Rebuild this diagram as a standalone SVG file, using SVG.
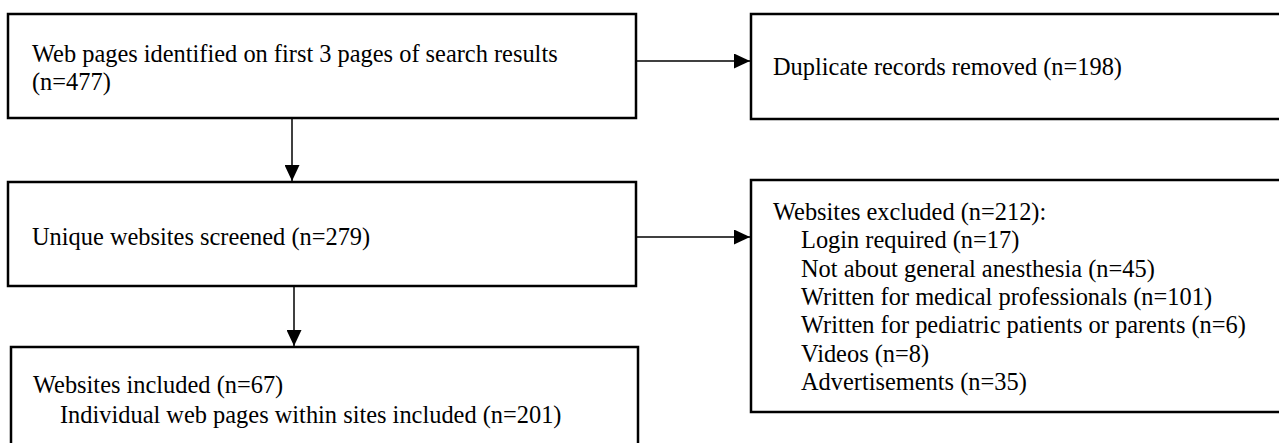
<svg xmlns="http://www.w3.org/2000/svg" width="1279" height="443" viewBox="0 0 1279 443">
<style>
.box{fill:#fff;stroke:#000;stroke-width:2.5}
.lbl{font-family:"Liberation Serif","Times New Roman",serif;font-size:24.4px;fill:#000}
.conn{fill:none;stroke:#000;stroke-width:1.5}
</style>
<defs>
<marker id="ah" viewBox="0 0 16 15" refX="16" refY="7.5" markerWidth="16" markerHeight="15" markerUnits="userSpaceOnUse" orient="auto">
<path d="M0,0 L16,7.5 L0,15 Z" fill="#000"/>
</marker>
</defs>
<rect width="1279" height="443" fill="#fff"/>
<g id="identified">
<rect class="box" x="8" y="14" width="628" height="104"/>
<text class="lbl" x="32" y="62">Web pages identified on first 3 pages of search results</text>
<text class="lbl" x="32" y="90">(n=477)</text>
</g>
<g id="duplicates">
<rect class="box" x="751" y="14" width="560" height="105"/>
<text class="lbl" x="773" y="75">Duplicate records removed (n=198)</text>
</g>
<g id="screened">
<rect class="box" x="8" y="182" width="628" height="104"/>
<text class="lbl" x="32" y="245">Unique websites screened (n=279)</text>
</g>
<g id="excluded">
<rect class="box" x="751" y="180" width="560" height="232"/>
<text class="lbl" x="773" y="220">Websites excluded (n=212):</text>
<text class="lbl" x="801" y="248.3">Login required (n=17)</text>
<text class="lbl" x="801" y="276.6">Not about general anesthesia (n=45)</text>
<text class="lbl" x="801" y="305">Written for medical professionals (n=101)</text>
<text class="lbl" x="801" y="333.3">Written for pediatric patients or parents (n=6)</text>
<text class="lbl" x="801" y="361.6">Videos (n=8)</text>
<text class="lbl" x="801" y="390">Advertisements (n=35)</text>
</g>
<g id="included">
<rect class="box" x="11" y="347" width="627" height="120"/>
<text class="lbl" x="33" y="393">Websites included (n=67)</text>
<text class="lbl" x="60" y="423">Individual web pages within sites included (n=201)</text>
</g>
<g id="connectors">
<line class="conn" x1="636" y1="61" x2="750" y2="61" marker-end="url(#ah)"/>
<line class="conn" x1="636" y1="237" x2="750" y2="237" marker-end="url(#ah)"/>
<line class="conn" x1="292" y1="118" x2="292" y2="181" marker-end="url(#ah)"/>
<line class="conn" x1="294" y1="286" x2="294" y2="346" marker-end="url(#ah)"/>
</g>
</svg>
